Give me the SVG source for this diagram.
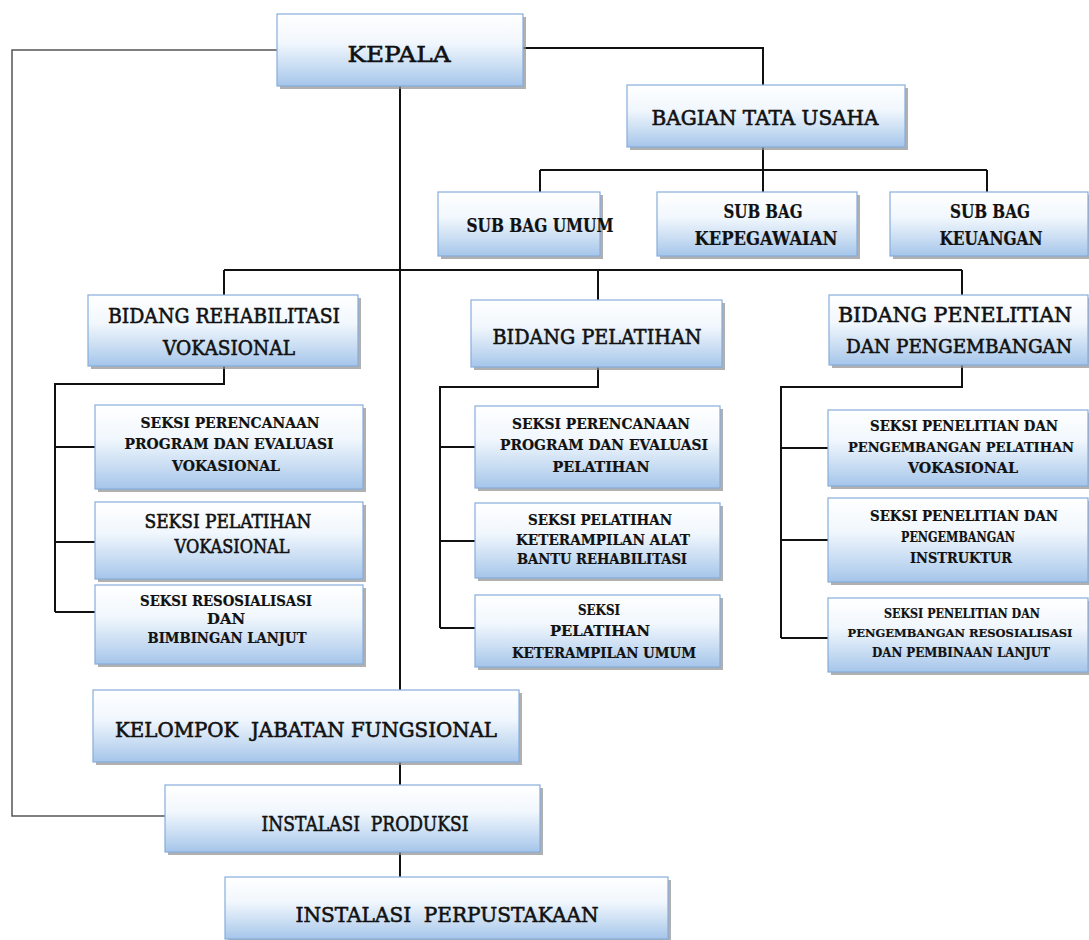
<svg xmlns="http://www.w3.org/2000/svg" width="1089" height="940" viewBox="0 0 1089 940">
<style>
.bx{fill:url(#g);stroke:#86aedb;stroke-width:1.2}
.sh{fill:#8e8e8e;opacity:.7}
.t{font-family:"DejaVu Serif","Liberation Serif",serif;fill:#111;text-anchor:middle;stroke:#111;stroke-width:.6}
.s{font-weight:bold;stroke-width:.2}
.p{white-space:pre}
.c{stroke:#111;stroke-width:2;fill:none}
.c2{stroke:#555;stroke-width:1.5;fill:none}
</style>
<defs>
<linearGradient id="g" x1="0" y1="0" x2="0" y2="1">
<stop offset="0" stop-color="#ffffff"/>
<stop offset="0.4" stop-color="#f1f7fd"/>
<stop offset="0.75" stop-color="#c6dbf2"/>
<stop offset="1" stop-color="#a5c5ea"/>
</linearGradient>
</defs>
<rect width="1089" height="940" fill="#fff"/>
<g id="connectors">
<path class="c2" d="M277 50H12V816H165"/>
<path class="c" d="M523 48H763V85"/>
<path class="c" d="M763 147V170M540 170H987M540 170V192M763 170V192M987 170V192"/>
<path class="c" d="M400 86V690"/>
<path class="c" d="M224 270H962M224 270V295M598 270V300M962 270V295"/>
<path class="c" d="M224 366V384H55V612M55 447H95M55 542H95M55 612H95"/>
<path class="c" d="M598 367V387H440V628M440 447H475M440 541H475M440 628H475"/>
<path class="c" d="M962 365V387H781V638M781 448H828M781 540H828M781 638H828"/>
<path class="c" d="M400 762V785M400 852V877"/>
</g>
<g id="kepala"><rect class="sh" x="280" y="17" width="246" height="72"/><rect class="bx" x="277" y="14" width="246" height="72"/><text class="t" x="399" y="62" font-size="23" textLength="103" lengthAdjust="spacingAndGlyphs">KEPALA</text></g>
<g id="tata-usaha"><rect class="sh" x="630" y="88" width="278" height="62"/><rect class="bx" x="627" y="85" width="278" height="62"/><text class="t" x="765" y="125" font-size="20" textLength="227" lengthAdjust="spacingAndGlyphs">BAGIAN TATA USAHA</text></g>
<g id="sub-umum"><rect class="sh" x="441" y="195" width="162" height="64"/><rect class="bx" x="438" y="192" width="162" height="64"/><text class="t s" x="540" y="232" font-size="18" textLength="147" lengthAdjust="spacingAndGlyphs">SUB BAG UMUM</text></g>
<g id="sub-kepegawaian"><rect class="sh" x="660" y="195" width="200" height="64"/><rect class="bx" x="657" y="192" width="200" height="64"/><text class="t s" x="763" y="218" font-size="18" textLength="79" lengthAdjust="spacingAndGlyphs">SUB BAG</text><text class="t s" x="766" y="245" font-size="18" textLength="143" lengthAdjust="spacingAndGlyphs">KEPEGAWAIAN</text></g>
<g id="sub-keuangan"><rect class="sh" x="893" y="195" width="196" height="64"/><rect class="bx" x="890" y="192" width="198" height="64"/><text class="t s" x="990" y="218" font-size="18" textLength="80" lengthAdjust="spacingAndGlyphs">SUB BAG</text><text class="t s" x="991" y="245" font-size="18" textLength="103" lengthAdjust="spacingAndGlyphs">KEUANGAN</text></g>
<g id="bidang-rehab"><rect class="sh" x="91" y="298" width="270" height="71"/><rect class="bx" x="88" y="295" width="270" height="71"/><text class="t" x="224" y="323" font-size="21" textLength="232" lengthAdjust="spacingAndGlyphs">BIDANG REHABILITASI</text><text class="t" x="229" y="355" font-size="21" textLength="132" lengthAdjust="spacingAndGlyphs">VOKASIONAL</text></g>
<g id="bidang-pelatihan"><rect class="sh" x="474" y="303" width="251" height="67"/><rect class="bx" x="471" y="300" width="251" height="67"/><text class="t" x="597" y="344" font-size="21" textLength="209" lengthAdjust="spacingAndGlyphs">BIDANG PELATIHAN</text></g>
<g id="bidang-penelitian"><rect class="sh" x="832" y="298" width="257" height="70"/><rect class="bx" x="829" y="295" width="259" height="70"/><text class="t" x="955" y="322" font-size="21" textLength="234" lengthAdjust="spacingAndGlyphs">BIDANG PENELITIAN</text><text class="t" x="959" y="353" font-size="19" textLength="226" lengthAdjust="spacingAndGlyphs">DAN PENGEMBANGAN</text></g>
<g id="seksi-rehab-1"><rect class="sh" x="98" y="408" width="268" height="84"/><rect class="bx" x="95" y="405" width="268" height="84"/><text class="t s" x="230" y="428" font-size="14" textLength="179" lengthAdjust="spacingAndGlyphs">SEKSI PERENCANAAN</text><text class="t s" x="229" y="449" font-size="14" textLength="209" lengthAdjust="spacingAndGlyphs">PROGRAM DAN EVALUASI</text><text class="t s" x="226" y="471" font-size="14" textLength="108" lengthAdjust="spacingAndGlyphs">VOKASIONAL</text></g>
<g id="seksi-rehab-2"><rect class="sh" x="98" y="505" width="268" height="77"/><rect class="bx" x="95" y="502" width="268" height="77"/><text class="t" x="228" y="528" font-size="18" textLength="167" lengthAdjust="spacingAndGlyphs">SEKSI PELATIHAN</text><text class="t" x="232" y="553" font-size="18" textLength="115" lengthAdjust="spacingAndGlyphs">VOKASIONAL</text></g>
<g id="seksi-rehab-3"><rect class="sh" x="98" y="588" width="268" height="79"/><rect class="bx" x="95" y="585" width="268" height="79"/><text class="t s" x="226" y="606" font-size="14" textLength="172" lengthAdjust="spacingAndGlyphs">SEKSI RESOSIALISASI</text><text class="t s" x="226" y="624" font-size="14" textLength="38" lengthAdjust="spacingAndGlyphs">DAN</text><text class="t s" x="227" y="643" font-size="14" textLength="159" lengthAdjust="spacingAndGlyphs">BIMBINGAN LANJUT</text></g>
<g id="seksi-pel-1"><rect class="sh" x="478" y="409" width="245" height="82"/><rect class="bx" x="475" y="406" width="245" height="82"/><text class="t s" x="601" y="429" font-size="14" textLength="178" lengthAdjust="spacingAndGlyphs">SEKSI PERENCANAAN</text><text class="t s" x="604" y="450" font-size="14" textLength="208" lengthAdjust="spacingAndGlyphs">PROGRAM DAN EVALUASI</text><text class="t s" x="601" y="472" font-size="14" textLength="97" lengthAdjust="spacingAndGlyphs">PELATIHAN</text></g>
<g id="seksi-pel-2"><rect class="sh" x="478" y="506" width="245" height="75"/><rect class="bx" x="475" y="503" width="245" height="75"/><text class="t s" x="600" y="525" font-size="14" textLength="144" lengthAdjust="spacingAndGlyphs">SEKSI PELATIHAN</text><text class="t s" x="603" y="545" font-size="14" textLength="174" lengthAdjust="spacingAndGlyphs">KETERAMPILAN ALAT</text><text class="t s" x="602" y="564" font-size="14" textLength="170" lengthAdjust="spacingAndGlyphs">BANTU REHABILITASI</text></g>
<g id="seksi-pel-3"><rect class="sh" x="478" y="598" width="245" height="72"/><rect class="bx" x="475" y="595" width="245" height="72"/><text class="t s" x="599" y="615" font-size="14" textLength="42" lengthAdjust="spacingAndGlyphs">SEKSI</text><text class="t s" x="600" y="636" font-size="14" textLength="100" lengthAdjust="spacingAndGlyphs">PELATIHAN</text><text class="t s" x="604" y="658" font-size="14" textLength="184" lengthAdjust="spacingAndGlyphs">KETERAMPILAN UMUM</text></g>
<g id="seksi-pen-1"><rect class="sh" x="831" y="413" width="258" height="76"/><rect class="bx" x="828" y="410" width="260" height="76"/><text class="t s" x="964" y="431" font-size="14" textLength="188" lengthAdjust="spacingAndGlyphs">SEKSI PENELITIAN DAN</text><text class="t s" x="961" y="452" font-size="13" textLength="226" lengthAdjust="spacingAndGlyphs">PENGEMBANGAN PELATIHAN</text><text class="t s" x="963" y="473" font-size="14" textLength="110" lengthAdjust="spacingAndGlyphs">VOKASIONAL</text></g>
<g id="seksi-pen-2"><rect class="sh" x="831" y="501" width="258" height="84"/><rect class="bx" x="828" y="498" width="260" height="84"/><text class="t s" x="964" y="521" font-size="14" textLength="188" lengthAdjust="spacingAndGlyphs">SEKSI PENELITIAN DAN</text><text class="t s" x="958" y="542" font-size="14" textLength="114" lengthAdjust="spacingAndGlyphs">PENGEMBANGAN</text><text class="t s" x="961" y="563" font-size="14" textLength="102" lengthAdjust="spacingAndGlyphs">INSTRUKTUR</text></g>
<g id="seksi-pen-3"><rect class="sh" x="831" y="601" width="258" height="74"/><rect class="bx" x="828" y="598" width="260" height="74"/><text class="t s" x="962" y="618" font-size="12" textLength="156" lengthAdjust="spacingAndGlyphs">SEKSI PENELITIAN DAN</text><text class="t s" x="960" y="637" font-size="11" textLength="225" lengthAdjust="spacingAndGlyphs">PENGEMBANGAN RESOSIALISASI</text><text class="t s" x="961" y="657" font-size="12" textLength="178" lengthAdjust="spacingAndGlyphs">DAN PEMBINAAN LANJUT</text></g>
<g id="kelompok"><rect class="sh" x="96" y="693" width="426" height="72"/><rect class="bx" x="93" y="690" width="426" height="72"/><text class="t p" x="306" y="737" font-size="20" textLength="382" lengthAdjust="spacingAndGlyphs">KELOMPOK  JABATAN FUNGSIONAL</text></g>
<g id="produksi"><rect class="sh" x="168" y="788" width="375" height="67"/><rect class="bx" x="165" y="785" width="375" height="67"/><text class="t p" x="365" y="831" font-size="21" textLength="207" lengthAdjust="spacingAndGlyphs">INSTALASI  PRODUKSI</text></g>
<g id="perpustakaan"><rect class="sh" x="228" y="880" width="443" height="60"/><rect class="bx" x="225" y="877" width="443" height="62"/><text class="t p" x="447" y="922" font-size="21" textLength="303" lengthAdjust="spacingAndGlyphs">INSTALASI  PERPUSTAKAAN</text></g>
</svg>
